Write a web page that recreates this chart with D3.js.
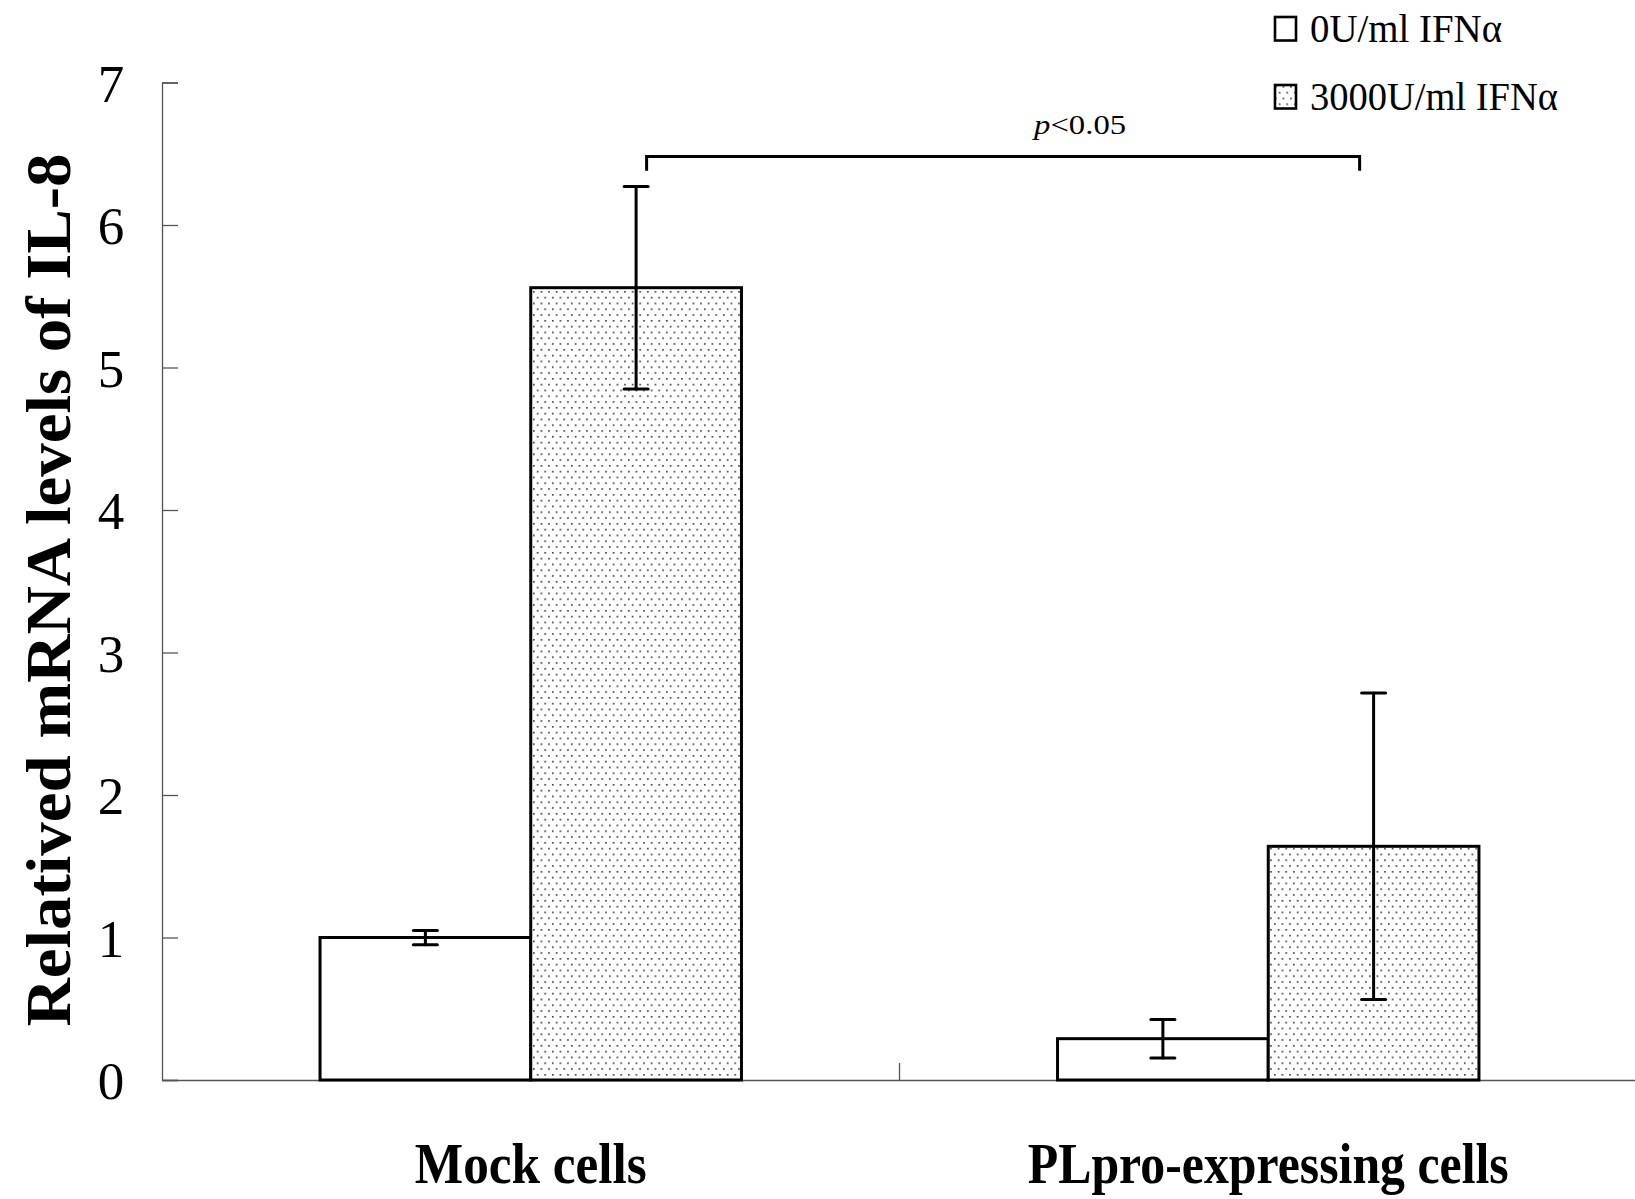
<!DOCTYPE html>
<html>
<head>
<meta charset="utf-8">
<script src="https://cdn.jsdelivr.net/npm/d3@7"></script>
<style>
  body { margin: 0; background: #fff; }
  svg text { font-family: "Liberation Serif", "Times New Roman", serif; }
</style>
</head>
<body>
<svg id="chart"></svg>
<script>
// Data
const categories = ["Mock cells", "PLpro-expressing cells"];
const series = ["0U/ml IFNα", "3000U/ml IFNα"];
const means = [
  [1.0, 5.56],
  [0.29, 1.64]
];
const errors = [
  [0.05, 0.71],
  [0.135, 1.075]
];
const yTicks = [0, 1, 2, 3, 4, 5, 6, 7];
const pLabel = "<0.05";
const bracketLevel = [6.38, 6.48]; // foot and top of the significance bracket

// Set the size
const width = 1635;
const height = 1199;
const left = 162;
const baseY = 1080;
const topY = 82.5;

const svg = d3.select("#chart").attr("width", width).attr("height", height);

// Dot pattern for the IFN bars
const defs = svg.append("defs");
const pat = defs.append("pattern")
  .attr("id", "dots")
  .attr("patternUnits", "userSpaceOnUse")
  .attr("width", 7.6)
  .attr("height", 11.6);
pat.append("rect").attr("width", 7.6).attr("height", 11.6).attr("fill", "#fff");
pat.append("rect").attr("x", 1).attr("y", 1).attr("width", 1.6).attr("height", 1.6).attr("fill", "#333");
pat.append("rect").attr("x", 4.8).attr("y", 6.8).attr("width", 1.6).attr("height", 1.6).attr("fill", "#333");

// Scales
const x0 = d3.scaleBand().domain(categories).range([left, 1637]).paddingInner(0).paddingOuter(0);
const x1 = d3.scaleBand().domain(series).range([0, x0.bandwidth()]).paddingInner(0).paddingOuter(0.75);
const y = d3.scaleLinear().domain([0, 7]).range([baseY, topY]);

// Y axis
const yAxis = svg.append("g")
  .attr("transform", `translate(${left},0)`)
  .call(d3.axisRight(y).tickValues(yTicks).tickSize(16).tickFormat(""));
yAxis.select(".domain").attr("stroke", "#555").attr("stroke-width", 1.3);
yAxis.selectAll(".tick line").attr("stroke", "#555").attr("stroke-width", 1.3);

svg.append("g")
  .selectAll("text")
  .data(yTicks)
  .enter()
  .append("text")
  .attr("x", 111)
  .attr("y", (d) => y(d) + 19)
  .attr("text-anchor", "middle")
  .attr("font-size", 53)
  .text((d) => d);

// X axis, ticks between categories pointing up
const xAxis = svg.append("g")
  .attr("transform", `translate(0,${baseY})`)
  .call(d3.axisTop(x0).tickSize(0).tickFormat(""));
xAxis.select(".domain").attr("stroke", "#555").attr("stroke-width", 1.3);
svg.append("line")
  .attr("x1", x0(categories[1])).attr("x2", x0(categories[1]))
  .attr("y1", baseY).attr("y2", baseY - 17)
  .attr("stroke", "#555").attr("stroke-width", 1.3);

// Category labels
const catLen = [232, 481];
svg.append("g")
  .selectAll("text")
  .data(categories)
  .enter()
  .append("text")
  .attr("x", (d) => x0(d) + x0.bandwidth() / 2)
  .attr("y", 1183)
  .attr("text-anchor", "middle")
  .attr("font-size", 58)
  .attr("font-weight", "bold")
  .attr("textLength", (d, i) => catLen[i])
  .attr("lengthAdjust", "spacingAndGlyphs")
  .text((d) => d);

// Y title
svg.append("text")
  .attr("transform", "translate(70,590) rotate(-90)")
  .attr("text-anchor", "middle")
  .attr("font-size", 64)
  .attr("font-weight", "bold")
  .attr("textLength", 873)
  .attr("lengthAdjust", "spacingAndGlyphs")
  .text("Relatived mRNA levels of IL-8");

// Bars
const rows = [];
categories.forEach((c, i) => {
  series.forEach((s, j) => {
    rows.push({ cat: c, ser: s, j: j, v: means[i][j], e: errors[i][j] });
  });
});

const cx = (d) => x0(d.cat) + x1(d.ser) + x1.bandwidth() / 2;

svg.append("g")
  .selectAll("rect")
  .data(rows)
  .enter()
  .append("rect")
  .attr("x", (d) => x0(d.cat) + x1(d.ser))
  .attr("y", (d) => y(d.v))
  .attr("width", x1.bandwidth())
  .attr("height", (d) => baseY - y(d.v))
  .attr("fill", (d) => (d.j === 0 ? "#fff" : "url(#dots)"))
  .attr("stroke", "#000")
  .attr("stroke-width", 3);

// Error bars
const eb = svg.append("g").attr("stroke", "#000").attr("stroke-width", 3).attr("stroke-linecap", "round");
rows.forEach((d) => {
  eb.append("line")
    .attr("x1", cx(d)).attr("x2", cx(d))
    .attr("y1", y(d.v + d.e)).attr("y2", y(d.v - d.e));
  [d.v + d.e, d.v - d.e].forEach((t) => {
    eb.append("line")
      .attr("x1", cx(d) - 12).attr("x2", cx(d) + 12)
      .attr("y1", y(t)).attr("y2", y(t));
  });
});

// Significance bracket between the two IFN bars
const bx1 = cx(rows[1]) + 10.5;
const bx2 = cx(rows[3]) - 14;
svg.append("path")
  .attr("d", `M${bx1},${y(bracketLevel[0])}V${y(bracketLevel[1])}H${bx2}V${y(bracketLevel[0])}`)
  .attr("fill", "none")
  .attr("stroke", "#000")
  .attr("stroke-width", 3);

const pText = svg.append("text")
  .attr("x", (bx1 + bx2) / 2 + 77)
  .attr("y", 134)
  .attr("text-anchor", "middle")
  .attr("font-size", 27)
  .attr("textLength", 92)
  .attr("lengthAdjust", "spacingAndGlyphs");
pText.append("tspan").attr("font-style", "italic").text("p");
pText.append("tspan").text(pLabel);

// Legend
const legend = svg.append("g")
  .selectAll("g")
  .data(series)
  .enter()
  .append("g")
  .attr("transform", (d, i) => `translate(1274,${17 + i * 68})`);
legend.append("rect")
  .attr("x", 1).attr("y", 0)
  .attr("width", 21).attr("height", 23.5)
  .attr("fill", (d, i) => (i === 0 ? "#fff" : "url(#dots)"))
  .attr("stroke", "#000")
  .attr("stroke-width", 2.6);
const legLen = [192, 248];
legend.append("text")
  .attr("x", 36)
  .attr("y", 25)
  .attr("font-size", 41)
  .attr("textLength", (d, i) => legLen[i])
  .attr("lengthAdjust", "spacingAndGlyphs")
  .text((d) => d);
</script>
</body>
</html>
